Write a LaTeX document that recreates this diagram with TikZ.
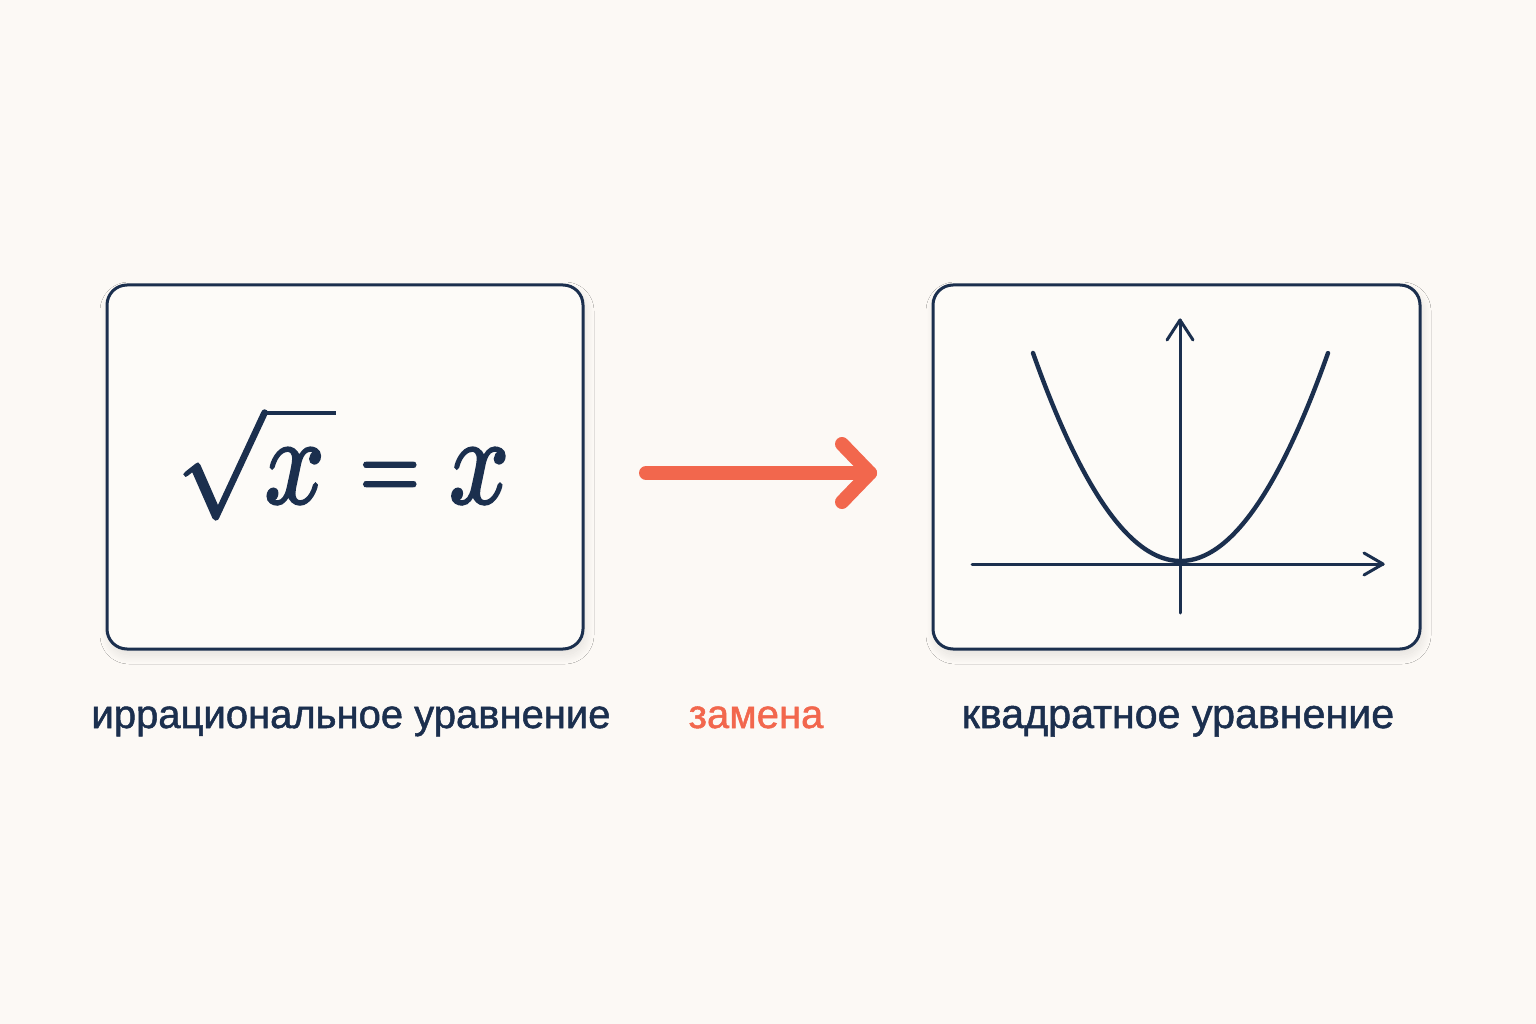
\documentclass[tikz,border=0pt]{standalone}
\usepackage{amsmath}
\usepackage{fontspec}
\setmainfont{Liberation Sans}
\usetikzlibrary{shadows.blur}
\definecolor{bgc}{HTML}{FCF9F5}
\definecolor{navy}{HTML}{1B2F4E}
\definecolor{boxfill}{HTML}{FDFBF8}
\definecolor{accent}{HTML}{F2674D}
\newcommand{\heavyon}[1]{\special{pdf:literal direct 2 Tr #1 w}}
\newcommand{\heavyoff}{\special{pdf:literal direct 0 Tr}}
\tikzset{
  panel/.style={draw=navy, line width=3, rounded corners=20, fill=boxfill,
    minimum width=476, minimum height=364, inner sep=0,
    blur shadow={shadow blur steps=14, shadow xshift=2pt, shadow yshift=-6pt, shadow opacity=10, shadow blur radius=9pt}},
  caption/.style={text=navy, font=\fontsize{40}{46}\selectfont, inner sep=0, anchor=base},
  axis/.style={draw=navy, line width=3, line cap=round, line join=round},
  curve/.style={draw=navy, line width=4.4, line cap=round},
  swap/.style={draw=accent, line width=14, line cap=round, line join=round},
  eqn/.style={text=navy, xscale=10.5, yscale=12.5, inner sep=0, anchor=base west}
}
\begin{document}
\begin{tikzpicture}[x=1pt,y=-1pt]
\fill[bgc] (0,0) rectangle (1536,1024);
\useasboundingbox (0,0) rectangle (1536,1024);
% panels
\node[panel] (left) at (345,467) {};
\node[panel, minimum width=487] (right) at (1176.5,467) {};
% equation
\node[eqn] (eq) at (175,503) {\heavyon{0.22}$\scalebox{1}[0.87]{$\sqrt{\rule{0pt}{0.61em}\smash{\scalebox{1}[1.149]{$x$}}\mkern2mu}$}\mkern-1mu\mathrel{\raisebox{0.28pt}{\scalebox{0.74}[0.8]{$=$}}}x$\heavyoff};
% axes and parabola
\coordinate (ybot) at (1180,613);
\coordinate (ytop) at (1180,320);
\coordinate (xl) at (972,564);
\coordinate (xr) at (1383,564);
\draw[axis] (ybot) -- (ytop);
\draw[axis] (ytop) ++(-13,20) -- (ytop) -- ++(13,20);
\draw[axis] (xl) -- (xr);
\draw[axis] (xr) ++(-19,-11) -- (xr) -- ++(-19,11);
\draw[curve] plot[domain=-1:1, samples=80, smooth] ({1180.5+147.5*\x},{561-208*\x*\x});
% arrow
\coordinate (a1) at (646,473);
\coordinate (a2) at (870,473);
\draw[swap] (a1) -- (a2);
\draw[swap] (a2) ++(-28,-29) -- (a2) -- ++(-28,29);
% captions
\node[caption] (c1) at (351,728) {\heavyon{0.5}иррациональное уравнение\heavyoff};
\node[caption, text=accent] (c2) at (756,728) {\heavyon{0.5}замена\heavyoff};
\node[caption, font=\fontsize{41.2}{46}\selectfont] (c3) at (1178,728) {\heavyon{0.5}квадратное уравнение\heavyoff};
\end{tikzpicture}
\end{document}
